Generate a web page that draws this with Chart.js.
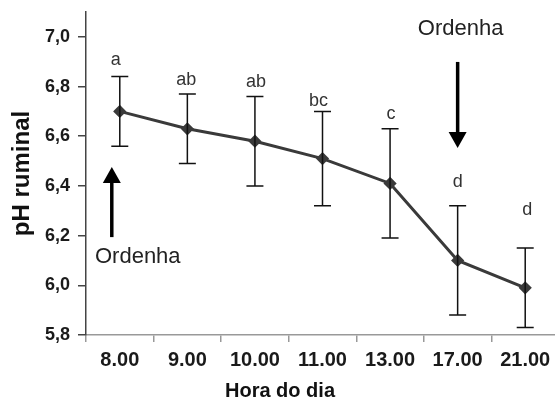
<!DOCTYPE html>
<html>
<head>
<meta charset="utf-8">
<script src="https://cdn.jsdelivr.net/npm/chart.js@4.4.0/dist/chart.umd.min.js"></script>
<style>
html,body{margin:0;padding:0;background:#fff;overflow:hidden;}
#outer{width:555px;height:399px;overflow:hidden;position:relative;}
#wrap{width:559px;height:399px;position:relative;}
</style>
</head>
<body>
<div id="outer"><div id="wrap"><canvas id="c"></canvas></div></div>
<script>
const hours = ['8.00','9.00','10.00','11.00','13.00','17.00','21.00'];
const phMean = [6.70, 6.63, 6.58, 6.51, 6.41, 6.10, 5.99];
const phUpper = [6.84, 6.77, 6.76, 6.70, 6.63, 6.32, 6.15];
const phLower = [6.56, 6.49, 6.40, 6.32, 6.19, 5.88, 5.83];
const letters = ['a','ab','ab','bc','c','d','d'];
const yTicks = [5.8, 6.0, 6.2, 6.4, 6.6, 6.8, 7.0];

const FONT = '"Liberation Sans", Arial, sans-serif';

const extras = {
  id: 'extras',
  afterDatasetsDraw(chart) {
    const ctx = chart.ctx;
    const xs = chart.scales.x, ys = chart.scales.y;
    ctx.save();
    // error bars
    ctx.strokeStyle = '#111';
    ctx.lineWidth = 1.5;
    for (let i = 0; i < hours.length; i++) {
      const x = xs.getPixelForValue(i);
      const yt = ys.getPixelForValue(phUpper[i]);
      const yb = ys.getPixelForValue(phLower[i]);
      ctx.beginPath();
      ctx.moveTo(x, yt); ctx.lineTo(x, yb);
      ctx.moveTo(x - 8.5, yt); ctx.lineTo(x + 8.5, yt);
      ctx.moveTo(x - 8.5, yb); ctx.lineTo(x + 8.5, yb);
      ctx.stroke();
    }
    // significance letters
    const gaps = [12, 9, 9, 5, 10, 19, 33];
    const dx = [-4, -1, 1, -4, 1, 0, 2];
    ctx.fillStyle = '#333';
    ctx.font = '18px ' + FONT;
    ctx.textAlign = 'center';
    ctx.textBaseline = 'alphabetic';
    for (let i = 0; i < hours.length; i++) {
      const x = xs.getPixelForValue(i);
      const yt = ys.getPixelForValue(phUpper[i]);
      ctx.fillText(letters[i], x + dx[i], yt - gaps[i]);
    }
    // arrows
    function arrow(x, y1, y2) {
      const dir = y2 < y1 ? -1 : 1;
      ctx.strokeStyle = '#000';
      ctx.fillStyle = '#000';
      ctx.lineWidth = 3.5;
      ctx.beginPath();
      ctx.moveTo(x, y1);
      ctx.lineTo(x, y2 - dir * 14);
      ctx.stroke();
      ctx.beginPath();
      ctx.moveTo(x, y2);
      ctx.lineTo(x - 9, y2 - dir * 16);
      ctx.lineTo(x + 9, y2 - dir * 16);
      ctx.closePath();
      ctx.fill();
    }
    const x0 = xs.getPixelForValue(0) - 8;
    arrow(x0, ys.getPixelForValue(6.194), ys.getPixelForValue(6.476));
    const x5 = xs.getPixelForValue(5);
    arrow(x5, ys.getPixelForValue(6.899), ys.getPixelForValue(6.553));
    ctx.fillStyle = '#222';
    ctx.font = '22px ' + FONT;
    ctx.textBaseline = 'middle';
    ctx.textAlign = 'center';
    ctx.fillText('Ordenha', x0 + 26, ys.getPixelForValue(6.114));
    ctx.fillText('Ordenha', x5 + 3, ys.getPixelForValue(7.033));
    // x-axis title
    ctx.fillStyle = '#111';
    ctx.font = 'bold 20px ' + FONT;
    ctx.textBaseline = 'alphabetic';
    ctx.fillText('Hora do dia', 280, 397);
    ctx.restore();
  }
};

new Chart(document.getElementById('c'), {
  type: 'line',
  data: {
    labels: hours,
    datasets: [{
      data: phMean,
      borderColor: '#3a3a3a',
      backgroundColor: '#3a3a3a',
      borderWidth: 3,
      pointStyle: 'rectRot',
      pointRadius: 4.5,
      pointHoverRadius: 4.5,
      tension: 0
    }]
  },
  options: {
    responsive: true,
    maintainAspectRatio: false,
    animation: false,
    devicePixelRatio: 1,
    layout: { autoPadding: false, padding: { top: 12, left: 0, right: 0, bottom: 0 } },
    plugins: { legend: { display: false }, tooltip: { enabled: false } },
    scales: {
      x: {
        type: 'category',
        offset: true,
        grid: { offset: true, drawOnChartArea: false, drawTicks: true, tickLength: 7, color: '#999', lineWidth: 1.5 },
        border: { color: '#999', width: 1.5 },
        ticks: { color: '#1a1a1a', font: { family: FONT, size: 20, weight: 'bold' }, padding: 6, maxRotation: 0, autoSkip: false },
        title: { display: false },
        afterFit(s) { s.height = 64; s.paddingLeft = 0; s.paddingRight = 0; }
      },
      y: {
        type: 'linear',
        min: 5.8,
        max: 7.1,
        afterBuildTicks(s) { s.ticks = yTicks.map(v => ({ value: v })); },
        grid: { drawOnChartArea: false, drawTicks: true, tickLength: 8, color: '#444', lineWidth: 1.5 },
        border: { color: '#444', width: 1.5 },
        ticks: {
          color: '#1a1a1a', font: { family: FONT, size: 18, weight: 'bold' }, padding: 8,
          callback: v => Number(v).toFixed(1).replace('.', ',')
        },
        title: { display: true, text: 'pH ruminal', color: '#111', font: { family: FONT, size: 24, weight: 'bold' }, padding: { top: 8, bottom: 0 } },
        afterFit(s) { s.width = 86; s.paddingTop = 0; s.paddingBottom = 0; }
      }
    }
  },
  plugins: [extras]
});
</script>
</body>
</html>
